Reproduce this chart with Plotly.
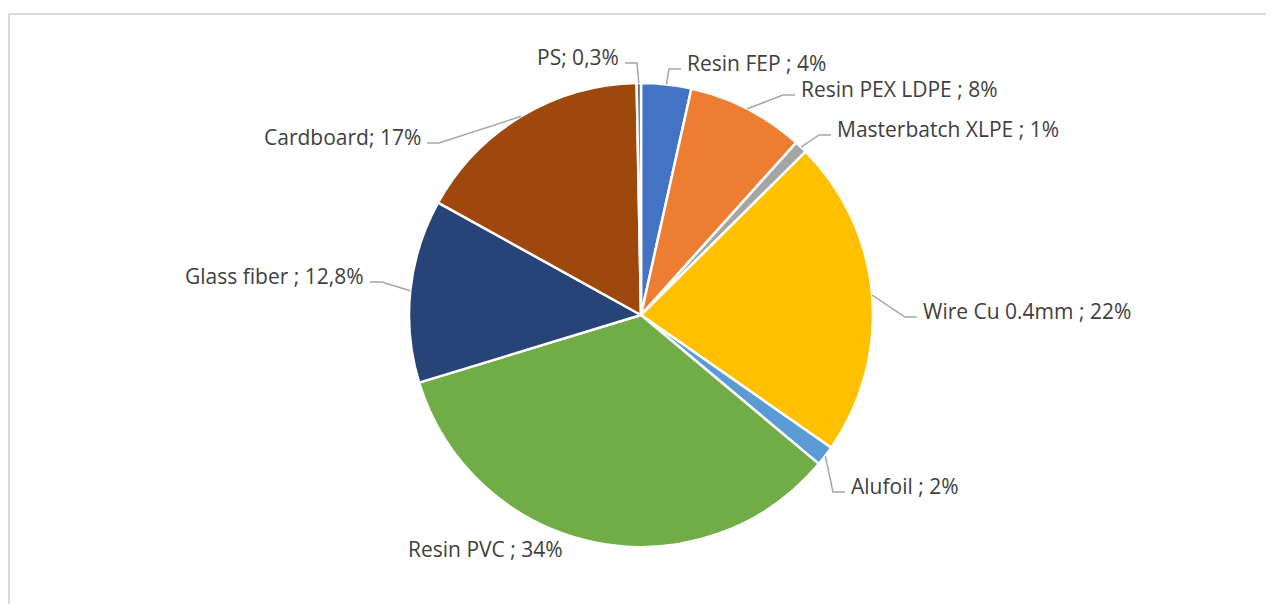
import math
import plotly.graph_objects as go

# ---- data ----
materials = ["Resin FEP", "Resin PEX LDPE", "Masterbatch XLPE", "Wire Cu 0.4mm",
             "Alufoil", "Resin PVC", "Glass fiber", "Cardboard", "PS"]
shares = [3.5, 8.2, 0.9, 22.2, 1.4, 34.3, 12.8, 16.7, 0.3]
label_texts = ["Resin FEP ; 4%", "Resin PEX LDPE ; 8%", "Masterbatch XLPE ; 1%",
               "Wire Cu 0.4mm ; 22%", "Alufoil ; 2%", "Resin PVC ; 34%",
               "Glass fiber ; 12,8%", "Cardboard; 17%", "PS; 0,3%"]
colors = ["#4472C4", "#ED7D31", "#A5A5A5", "#FFC000", "#5B9BD5",
          "#70AD47", "#264478", "#9E480E", "#636363"]

# ---- layout constants (page pixels) ----
W, H = 1274, 604
OFF = 8  # page body margin
CX, CY, R = 641, 315, 232
# leader end point near each label (px), side of text, whether to draw a leader
label_pos = [(681, 69, "r", True), (795, 95, "r", True), (831, 135, "r", True),
             (917, 317, "r", True), (845, 492, "r", True), (485, 555, "c", False),
             (370, 282, "l", True), (427, 143, "l", True), (625, 63, "l", True)]


def px(x):
    return (x - OFF) / W


def py(y):
    return 1 - (y - OFF) / H


fig = go.Figure(go.Pie(
    labels=materials, values=shares, sort=False, direction="clockwise",
    rotation=0, textinfo="none", hoverinfo="label+percent",
    marker=dict(colors=colors, line=dict(color="white", width=2.5)),
    domain=dict(x=[px(CX - R), px(CX + R)], y=[py(CY + R), py(CY - R)]),
    showlegend=False,
))

total = sum(shares)
cum = 0.0
shapes = [dict(type="rect", xref="paper", yref="paper",
               x0=px(9), x1=px(W + 40), y0=py(14), y1=py(H + 40),
               line=dict(color="#D9D9D9", width=2), fillcolor="rgba(0,0,0,0)")]
annotations = []
for val, txt, (lx, ly, side, lead) in zip(shares, label_texts, label_pos):
    mid = (cum + val / 2) / total * 2 * math.pi
    cum += val
    ax = CX + R * math.sin(mid)
    ay = CY - R * math.cos(mid)
    if lead:
        ex = lx - 12 if side == "r" else lx + 12
        path = f"M {px(ax)},{py(ay)} L {px(ex)},{py(ly)} L {px(lx)},{py(ly)}"
        shapes.append(dict(type="path", xref="paper", yref="paper", path=path,
                           line=dict(color="#A6A6A6", width=1.5)))
    if side == "r":
        annotations.append(dict(x=px(lx + 4), y=py(ly - 6), xref="paper", yref="paper",
                                text=txt, showarrow=False, xanchor="left", yanchor="middle"))
    elif side == "l":
        annotations.append(dict(x=px(lx - 4), y=py(ly - 6), xref="paper", yref="paper",
                                text=txt, showarrow=False, xanchor="right", yanchor="middle"))
    else:
        annotations.append(dict(x=px(lx), y=py(ly - 6), xref="paper", yref="paper",
                                text=txt, showarrow=False, xanchor="center", yanchor="middle"))

fig.update_layout(
    width=W, height=H, margin=dict(l=0, r=0, t=0, b=0),
    paper_bgcolor="white", plot_bgcolor="white",
    font=dict(family="Open Sans", size=21, color="#404040"),
    shapes=shapes, annotations=annotations,
)

fig.write_html("out.html")
